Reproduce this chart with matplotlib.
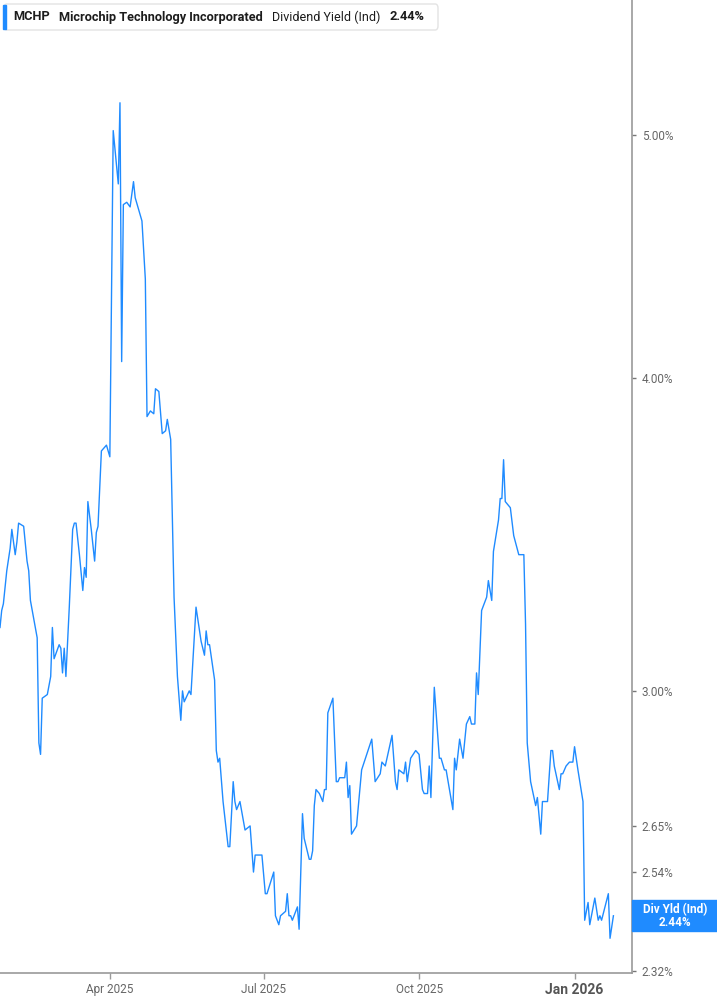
import numpy as np
import pandas as pd
import matplotlib
matplotlib.use("Agg")
import matplotlib.pyplot as plt
from matplotlib.patches import FancyBboxPatch, Rectangle
from matplotlib.ticker import FixedLocator, NullLocator
import matplotlib.dates as mdates

# MCHP dividend yield (ind)
start = "2025-01-26"
days = [0, 1, 2, 4, 6, 7, 9, 10, 11, 14, 16, 17, 18, 22, 23, 24, 25, 28, 30, 31,
        32, 35, 36, 37, 38, 39, 41, 43, 44, 45, 47, 49, 50, 51, 52, 54, 56, 57, 58, 60,
        63, 65, 67, 70, 71, 72, 73, 75, 77, 79, 80, 84, 86, 87, 89, 91, 92, 94, 96, 98,
        99, 101, 103, 105, 107, 108, 109, 112, 113, 116, 119, 121, 122, 123, 124, 127, 128, 129, 130, 132,
        135, 136, 138, 139, 140, 142, 145, 148, 150, 151, 154, 155, 157, 158, 162, 163, 165, 166, 169, 170,
        171, 172, 173, 176, 177, 179, 180, 183, 184, 185, 186, 187, 189, 191, 192, 193, 194, 197, 199, 200,
        201, 204, 205, 206, 207, 208, 211, 214, 217, 220, 222, 225, 226, 228, 232, 234, 235, 236, 239, 240,
        241, 243, 246, 248, 250, 251, 253, 254, 255, 257, 260, 261, 263, 264, 266, 268, 269, 270, 272, 274,
        276, 278, 279, 281, 282, 283, 285, 288, 289, 291, 292, 295, 296, 297, 298, 299, 302, 304, 307, 308,
        310, 311, 312, 314, 317, 318, 320, 321, 324, 326, 327, 328, 331, 332, 333, 335, 337, 339, 340, 342,
        345, 346, 348, 349, 352, 354, 355, 356, 360, 361, 363]
yld = [3.18, 3.23, 3.25, 3.35, 3.42, 3.48, 3.40, 3.44, 3.50, 3.49, 3.38, 3.35, 3.26, 3.15, 2.86, 2.83, 2.98, 2.99, 3.04, 3.18,
       3.09, 3.13, 3.12, 3.05, 3.12, 3.04, 3.24, 3.48, 3.50, 3.50, 3.40, 3.29, 3.36, 3.33, 3.57, 3.48, 3.38, 3.47, 3.49, 3.74,
       3.76, 3.72, 5.02, 4.78, 5.15, 4.06, 4.69, 4.70, 4.68, 4.79, 4.72, 4.62, 4.38, 3.86, 3.88, 3.87, 3.96, 3.95, 3.80, 3.81,
       3.85, 3.78, 3.27, 3.04, 2.92, 3.00, 2.97, 3.00, 2.99, 3.24, 3.14, 3.10, 3.17, 3.13, 3.13, 3.03, 2.84, 2.81, 2.82, 2.71,
       2.60, 2.60, 2.76, 2.71, 2.69, 2.71, 2.64, 2.65, 2.54, 2.58, 2.58, 2.58, 2.49, 2.49, 2.54, 2.44, 2.42, 2.44, 2.45, 2.49,
       2.44, 2.44, 2.43, 2.46, 2.41, 2.68, 2.62, 2.57, 2.57, 2.59, 2.70, 2.74, 2.73, 2.71, 2.74, 2.74, 2.94, 2.98, 2.76, 2.76,
       2.77, 2.77, 2.81, 2.72, 2.75, 2.63, 2.65, 2.79, 2.83, 2.87, 2.76, 2.78, 2.81, 2.80, 2.88, 2.76, 2.74, 2.79, 2.78, 2.81,
       2.76, 2.82, 2.84, 2.83, 2.74, 2.73, 2.73, 2.80, 2.72, 3.01, 2.82, 2.82, 2.79, 2.79, 2.74, 2.69, 2.82, 2.79, 2.87, 2.82,
       2.91, 2.93, 2.91, 2.91, 3.05, 2.99, 3.23, 3.27, 3.32, 3.26, 3.41, 3.51, 3.58, 3.58, 3.71, 3.57, 3.55, 3.46, 3.40, 3.40,
       3.40, 3.19, 2.86, 2.76, 2.70, 2.72, 2.63, 2.71, 2.71, 2.84, 2.84, 2.80, 2.74, 2.78, 2.78, 2.80, 2.81, 2.81, 2.85, 2.79,
       2.71, 2.43, 2.47, 2.42, 2.48, 2.43, 2.44, 2.43, 2.49, 2.39, 2.44]

ytick_vals = [2.32, 2.54, 2.65, 3.00, 4.00, 5.00]
xtick_dates = ["2025-04-01", "2025-07-01", "2025-10-01", "2026-01-01"]
xtick_labels = ["Apr 2025", "Jul 2025", "Oct 2025", "Jan 2026"]
last_val = 2.44

blue = "#1f8bff"
grey = "#9a9a9a"
W, H = 717, 1005

plt.rcParams["font.family"] = ["Roboto", "DejaVu Sans"]

fig = plt.figure(figsize=(W / 100, H / 100), dpi=100)
ax = fig.add_axes([0, 32 / H, 632 / W, 1 - 32 / H])

dates = pd.Timestamp(start) + pd.to_timedelta(days, unit="D")
ax.plot(dates, yld, color=blue, lw=1.0)

ax.set_yscale("log")
ax.set_ylim(2.315, 5.66)
ax.set_xlim(pd.Timestamp(start), pd.Timestamp("2026-02-04"))

for s in ["top", "left"]:
    ax.spines[s].set_visible(False)
for s in ["right", "bottom"]:
    ax.spines[s].set_color(grey)
    ax.spines[s].set_linewidth(1.2)

ax.yaxis.tick_right()
ax.yaxis.set_major_locator(FixedLocator(ytick_vals))
ax.yaxis.set_minor_locator(NullLocator())
ax.set_yticklabels(["%.2f%%" % v for v in ytick_vals])
ax.tick_params(axis="y", length=3, width=1, color="#777777", labelcolor="#666666",
               labelsize=8.5, pad=4)

xt = mdates.date2num(pd.to_datetime(xtick_dates))
ax.xaxis.set_major_locator(FixedLocator(xt))
ax.xaxis.set_minor_locator(NullLocator())
ax.set_xticklabels(xtick_labels)
ax.tick_params(axis="x", length=4, width=1, color=grey, labelcolor="#666666",
               labelsize=8.5, pad=3)
lab = ax.get_xticklabels()[-1]
lab.set_fontweight("bold")
lab.set_fontsize(10)
lab.set_color("#555555")

# value flag on the right axis
yd = ax.transData.transform((xt[0], last_val))[1] / H
fig.patches.append(Rectangle((632 / W, yd - 15.5 / H), 85 / W, 31 / H,
                             transform=fig.transFigure, color=blue, zorder=5))
fig.text(675 / W, yd, "Div Yld (Ind)\n%.2f%%" % last_val, ha="center", va="center",
         color="white", fontsize=8.5, fontweight="bold", linespacing=0.95, zorder=6)

# header box
fig.patches.append(FancyBboxPatch((4 / W, 1 - 30 / H), 434 / W, 26 / H,
                                  boxstyle="round,pad=0,rounding_size=0.004",
                                  transform=fig.transFigure, fc="white", ec="#e3e3e3",
                                  lw=1, zorder=5))
fig.patches.append(Rectangle((3 / W, 1 - 29 / H), 3 / W, 24 / H,
                             transform=fig.transFigure, color=blue, zorder=6))
hy = 1 - 17 / H
fig.text(13 / W, hy, "MCHP", fontsize=9.2, fontweight="bold", color="#1c1c1c", va="center", zorder=7)
fig.text(59 / W, hy, "Microchip Technology Incorporated", fontsize=9.2, fontweight="bold",
         color="#1c1c1c", va="center", zorder=7)
fig.text(272 / W, hy, "Dividend Yield (Ind)", fontsize=9, color="#1c1c1c", va="center", zorder=7)
fig.text(389 / W, hy, "%.2f%%" % last_val, fontsize=9.2, fontweight="bold", color="#1c1c1c",
         va="center", zorder=7)

fig.savefig("out.png", dpi=100)
